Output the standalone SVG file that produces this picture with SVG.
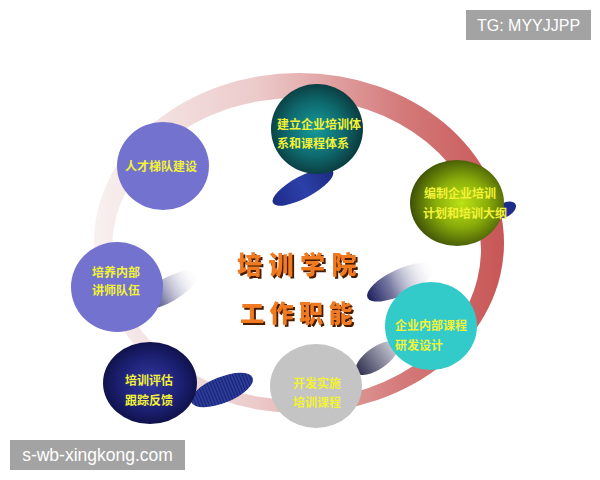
<svg xmlns="http://www.w3.org/2000/svg" width="600" height="480" viewBox="0 0 600 480">
<defs>
<linearGradient id="ringG" gradientUnits="userSpaceOnUse" x1="94" y1="0" x2="504" y2="0">
<stop offset="0" stop-color="#f8f0f0"/>
<stop offset="0.4" stop-color="#eccaca"/>
<stop offset="0.75" stop-color="#d47a7a"/>
<stop offset="1" stop-color="#c85656"/>
</linearGradient>
<radialGradient id="tealG" cx="0.48" cy="0.5" r="0.55">
<stop offset="0" stop-color="#169a9a"/>
<stop offset="0.55" stop-color="#0e6a6e"/>
<stop offset="1" stop-color="#0a3438"/>
</radialGradient>
<radialGradient id="greenG" cx="0.55" cy="0.5" r="0.55">
<stop offset="0" stop-color="#bde214"/>
<stop offset="0.5" stop-color="#8aae0a"/>
<stop offset="1" stop-color="#3e5006"/>
</radialGradient>
<radialGradient id="navyG" cx="0.5" cy="0.5" r="0.55">
<stop offset="0" stop-color="#3438a0"/>
<stop offset="0.6" stop-color="#1c2072"/>
<stop offset="1" stop-color="#0c0e40"/>
</radialGradient>
<linearGradient id="fadeG" x1="0" y1="0" x2="1" y2="0">
<stop offset="0" stop-color="#1c1e5c"/>
<stop offset="0.35" stop-color="#7a7ca4"/>
<stop offset="1" stop-color="#ffffff" stop-opacity="0"/>
</linearGradient>
<linearGradient id="greyFadeG" x1="0" y1="0" x2="1" y2="0">
<stop offset="0" stop-color="#2c2c4c"/>
<stop offset="1" stop-color="#d8d8e2"/>
</linearGradient>
<linearGradient id="blueG" x1="0" y1="0" x2="1" y2="0">
<stop offset="0" stop-color="#1e2c8a"/>
<stop offset="0.5" stop-color="#2c40a8"/>
<stop offset="1" stop-color="#1c2a80"/>
</linearGradient>
<pattern id="stripes" width="3" height="10" patternUnits="userSpaceOnUse">
<rect width="3" height="10" fill="#2c3c9c"/>
<rect width="1" height="10" fill="#18226c"/>
</pattern>
<filter id="shadow" x="-10%" y="-20%" width="125%" height="150%">
<feFlood flood-color="#4a1c00"/>
<feComposite in2="SourceAlpha" operator="in"/>
<feOffset dx="2" dy="2" result="sh"/>
<feMerge><feMergeNode in="sh"/><feMergeNode in="SourceGraphic"/></feMerge>
</filter>
<style>
.lbl{font-family:"Noto Sans CJK SC","Noto Sans CJK TC",sans-serif;font-weight:bold;fill:#f2f236;font-size:12px;}
.ttl{font-family:"Noto Sans CJK SC","Noto Sans CJK TC",sans-serif;font-weight:900;fill:#f07a22;filter:url(#shadow);}
.wm{font-family:"Liberation Sans","DejaVu Sans",sans-serif;fill:#ffffff;}
</style>
</defs>
<rect width="600" height="480" fill="#ffffff"/>

<g id="ring">
<path fill="url(#ringG)" fill-rule="evenodd" d="M94,243 A205,170 0 1 0 504,243 A205,170 0 1 0 94,243 Z M112,249 A184.5,151 0 1 0 481,249 A184.5,151 0 1 0 112,249 Z"/>
</g>

<g id="connectors">
<ellipse cx="303" cy="187" rx="34" ry="11" transform="rotate(-28 303 187)" fill="url(#blueG)"/>
<ellipse cx="505" cy="210" rx="12" ry="7" transform="rotate(-30 505 210)" fill="#1e2c8a"/>
<ellipse cx="168" cy="290" rx="34" ry="12" transform="rotate(-30 168 290)" fill="url(#fadeG)"/>
<ellipse cx="222" cy="390" rx="33" ry="13" transform="rotate(-22 222 390)" fill="url(#stripes)"/>
<ellipse cx="401" cy="282" rx="37" ry="13" transform="rotate(-25 401 282)" fill="url(#fadeG)"/>
<ellipse cx="377" cy="358" rx="25" ry="11" transform="rotate(-35 377 358)" fill="url(#greyFadeG)"/>
</g>

<g id="node-talent">
<ellipse cx="163" cy="166" rx="46" ry="44" fill="#7472cf"/>
<text class="lbl" x="125" y="170.5">人才梯队建设</text>
</g>

<g id="node-system">
<ellipse cx="317" cy="129" rx="46" ry="45" fill="url(#tealG)"/>
<text class="lbl" x="277" y="128.5">建立企业培训体</text>
<text class="lbl" x="277" y="147.5">系和课程体系</text>
</g>

<g id="node-plan">
<ellipse cx="457" cy="203" rx="47" ry="43" fill="url(#greenG)"/>
<text class="lbl" x="424" y="198">编制企业培训</text>
<text class="lbl" x="423" y="218">计划和培训大纲</text>
</g>

<g id="node-lecturer">
<ellipse cx="117" cy="287" rx="46" ry="45" fill="#7472cf"/>
<text class="lbl" x="92" y="276.5">培养内部</text>
<text class="lbl" x="92" y="294.5">讲师队伍</text>
</g>

<g id="node-evaluate">
<ellipse cx="150" cy="383" rx="47" ry="41" fill="url(#navyG)"/>
<text class="lbl" x="125" y="384.5">培训评估</text>
<text class="lbl" x="125" y="404.5">跟踪反馈</text>
</g>

<g id="node-implement">
<ellipse cx="316" cy="386" rx="46" ry="42" fill="#c4c4c4"/>
<text class="lbl" x="293" y="387.5">开发实施</text>
<text class="lbl" x="293" y="406.5">培训课程</text>
</g>

<g id="node-course">
<ellipse cx="431" cy="326" rx="46" ry="44" fill="#33caca"/>
<text class="lbl" x="395" y="329.5">企业内部课程</text>
<text class="lbl" x="395" y="349.5">研发设计</text>
</g>

<g id="title">
<text class="ttl" x="237" y="274" font-size="25" letter-spacing="6.5">培训学院</text>
<text class="ttl" x="240" y="322" font-size="24" letter-spacing="5.5">工作职能</text>
</g>

<g id="watermarks">
<rect x="466" y="10" width="125" height="30" fill="#a3a3a3"/>
<text class="wm" x="528.5" y="31" font-size="16" text-anchor="middle">TG: MYYJJPP</text>
<rect x="10" y="440" width="175" height="30" fill="#a3a3a3"/>
<text class="wm" x="97.5" y="461" font-size="17.5" text-anchor="middle">s-wb-xingkong.com</text>
</g>
</svg>
